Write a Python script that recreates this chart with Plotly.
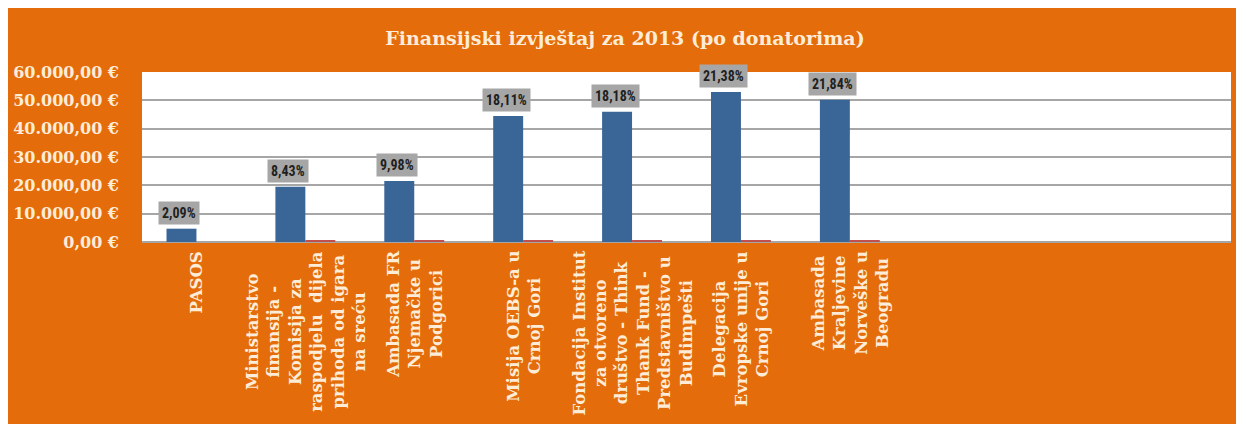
import plotly.graph_objects as go

# ---------------- data ----------------
donors = [
    "PASOS",
    "Ministarstvo<br>finansija -<br>Komisija za<br>raspodjelu  dijela<br>prihoda od igara<br>na sreću",
    "Ambasada FR<br>Njemačke u<br>Podgorici",
    "Misija OEBS-a u<br>Crnoj Gori",
    "Fondacija Institut<br>za otvoreno<br>društvo - Think<br>Thank Fund -<br>Predstavništvo u<br>Budimpešti",
    "Delegacija<br>Evropske unije u<br>Crnoj Gori",
    "Ambasada<br>Kraljevine<br>Norveške u<br>Beogradu",
]
amounts = [4700, 19500, 21500, 44500, 46000, 52900, 50200]
second_series = [0, 600, 600, 600, 600, 600, 600]
shares = ["2,09%", "8,43%", "9,98%", "18,11%", "18,18%", "21,38%", "21,84%"]
y_tick_values = [0, 10000, 20000, 30000, 40000, 50000, 60000]
y_tick_labels = ["0,00 €", "10.000,00 €", "20.000,00 €", "30.000,00 €",
                 "40.000,00 €", "50.000,00 €", "60.000,00 €"]
title_text = "Finansijski izvještaj za 2013 (po donatorima)"
n_slots = 10  # category slots on the axis (last ones empty)

# ---------------- layout constants ----------------
W, H = 1244, 424
L, R, T, B = 134, 21, 64, 190
BARGAP = 0.45
ORANGE = "#e46c0a"
CREAM = "#fdecd8"
BLUE = "#3a6597"
RED = "#c0504d"
GRID = "#a6a6a6"
SERIF = "DejaVu Serif"

plot_w = W - L - R
slot_px = plot_w / n_slots
bar_px = slot_px * (1 - BARGAP) / 2

fig = go.Figure()
fig.add_trace(go.Bar(x=donors, y=amounts, marker_color=BLUE, marker_line_width=0,
                     name="Iznos"))
fig.add_trace(go.Bar(x=donors, y=second_series, marker_color=RED, marker_line_width=0,
                     name="Ostalo"))

annotations = []
for d, v, s in zip(donors, amounts, shares):
    annotations.append(dict(
        x=d, y=v, xref="x", yref="y", text=s, showarrow=False,
        xanchor="center", yanchor="bottom", xshift=-bar_px / 2 - 2, yshift=4,
        bgcolor="#a6a6a6", borderpad=3,
        font=dict(family="Liberation Sans Narrow, Arial Narrow, Roboto Condensed, Liberation Sans, sans-serif",
                  size=14, color="#1f1f1f", weight="bold"),
    ))
for d in donors:
    annotations.append(dict(
        x=d, y=0, xref="x", yref="y", text=d, showarrow=False,
        textangle=-90, xanchor="center", yanchor="top", yshift=-7,
        align="center",
        font=dict(family=SERIF, size=16.5, color=CREAM, weight="bold"),
    ))

fig.update_layout(
    width=W, height=H,
    margin=dict(l=L, r=R, t=T, b=B, pad=0),
    paper_bgcolor=ORANGE, plot_bgcolor="white",
    barmode="group", bargap=BARGAP, bargroupgap=0,
    showlegend=False,
    title=dict(text=title_text, x=617 / W, xref="container", xanchor="center",
               y=1 - 30 / H, yref="container", yanchor="middle",
               font=dict(family=SERIF, size=19, color=CREAM, weight="bold"),
               automargin=False),
    xaxis=dict(type="category", categoryorder="array", categoryarray=donors,
               range=[-0.5, n_slots - 0.5], showticklabels=False, ticks="",
               showgrid=False, showline=False, zeroline=False, fixedrange=True,
               automargin=False),
    yaxis=dict(range=[0, 60000], tickvals=y_tick_values, ticktext=y_tick_labels,
               showgrid=True, gridcolor=GRID, gridwidth=1.5,
               zeroline=True, zerolinecolor=GRID, zerolinewidth=1.5,
               showline=False, ticks="", ticklabelstandoff=22,
               tickfont=dict(family=SERIF, size=16, color=CREAM, weight="bold"),
               fixedrange=True, automargin=False),
    annotations=annotations,
)

fig.write_html("out.html", config={"displayModeBar": False})
